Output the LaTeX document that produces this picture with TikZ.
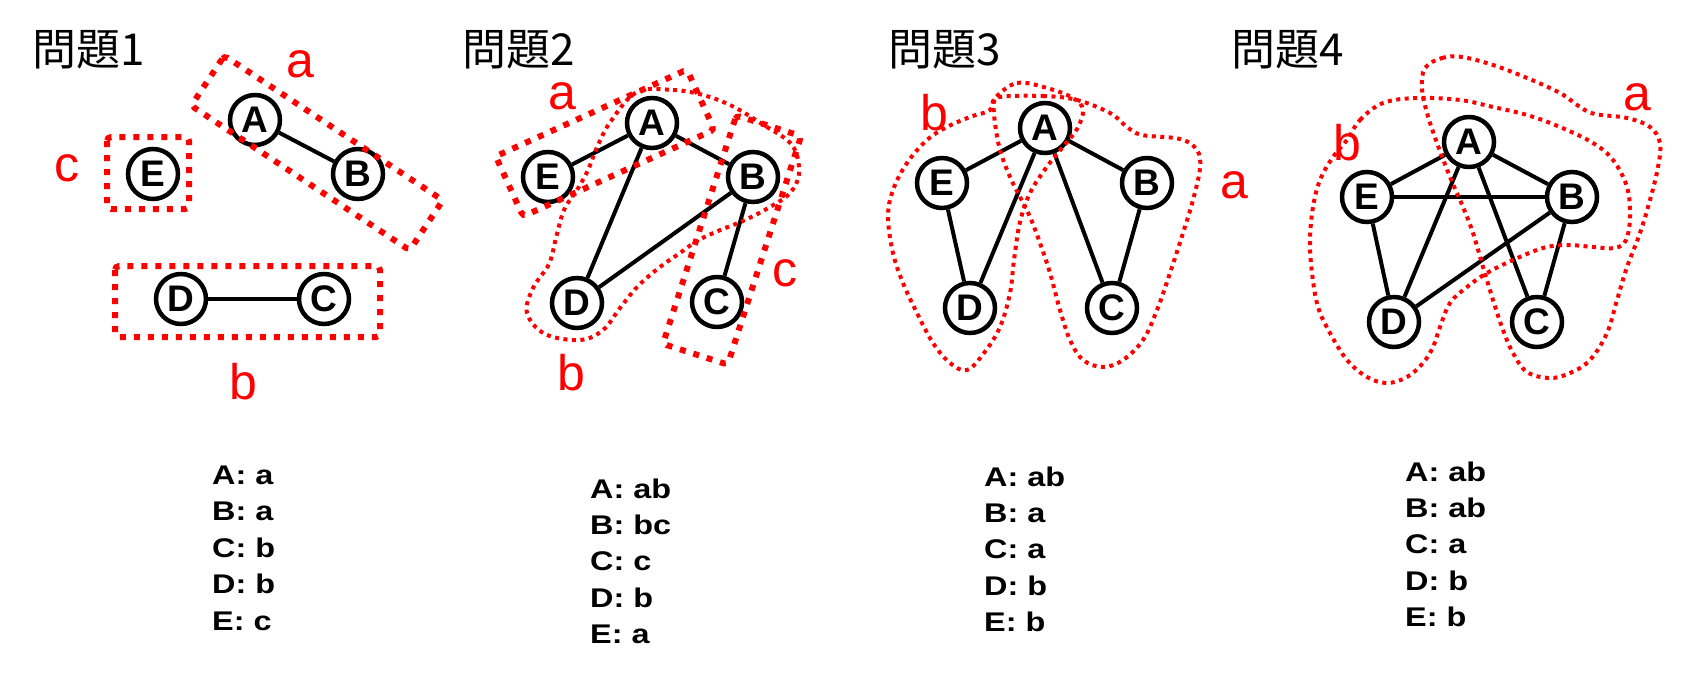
\documentclass[tikz,border=0pt]{standalone}
\usepackage{fontspec}
\setmainfont{Liberation Sans}
\newfontfamily\cjk{Noto Sans CJK JP}
\newfontfamily\ansfont[FakeStretch=1.2]{Liberation Sans}
\begin{document}
\begin{tikzpicture}[x=1pt,y=-1pt,
  vtx/.style={circle,draw=black,line width=4.5pt,fill=white,minimum size=50pt,inner sep=0pt,font=\bfseries\fontsize{37}{37}\selectfont},
  edge/.style={line width=4pt,draw=black},
  thickdot/.style={draw=red,line width=6pt,dash pattern=on 6pt off 8pt,rounded corners=4pt},
  thindot/.style={draw=red,line width=4pt,dash pattern=on 4pt off 4.5pt},
  grp/.style={text=red,font=\fontsize{50}{50}\selectfont,inner sep=0pt},
  ttl/.style={font=\cjk\fontsize{44}{44}\selectfont,anchor=base west,inner sep=0pt},
  ans/.style={font=\ansfont\bfseries\fontsize{27}{27}\selectfont,anchor=base west,inner sep=0pt}]
\useasboundingbox (0,0) rectangle (1687,680);

% ---------- titles
\node[ttl] (t1) at (32,65) {問題1};
\node[ttl] (t2) at (462,65) {問題2};
\node[ttl] (t3) at (888,65) {問題3};
\node[ttl] (t4) at (1231,65) {問題4};

% ---------- panel 1
\node[vtx] (pA1) at (255,120) {A};
\node[vtx] (pB1) at (358,174) {B};
\node[vtx] (pE1) at (153,174) {E};
\node[vtx] (pD1) at (181,299) {D};
\node[vtx] (pC1) at (324,299) {C};
\draw[edge] (pA1) -- (pB1);
\draw[edge] (pD1) -- (pC1);
\draw[thickdot] (107,137) rectangle (189,209);
\draw[thickdot] (115,266) rectangle (380,337);
\draw[thickdot,shift={(317,153)},rotate=-33.5] (-131,-30) rectangle (131,30);
\node[grp] (g1a) at (300,64) {a};
\node[grp] (g1b) at (243,382) {b};
\node[grp] (g1c) at (67,168) {c};

% ---------- panel 2
\node[vtx] (pA2) at (652,123) {A};
\node[vtx] (pE2) at (548,177) {E};
\node[vtx] (pB2) at (753,177) {B};
\node[vtx] (pD2) at (577,303) {D};
\node[vtx] (pC2) at (717,302) {C};
\draw[edge] (pA2) -- (pE2);
\draw[edge] (pA2) -- (pB2);
\draw[edge] (pA2) -- (pD2);
\draw[edge] (pD2) -- (pB2);
\draw[edge] (pB2) -- (pC2);
\draw[thindot] plot[smooth cycle,tension=0.6] coordinates {
 (637,92) (673,90) (703,95) (732,106) (762,124) (792,145) (799,173) (790,193)
 (770,207) (745,220) (718,231) (697,241) (680,253) (660,267) (638,286) (620,308)
 (603,330) (580,340) (545,334) (527,313) (533,288) (549,264) (556,238) (564,210)
 (577,190) (588,170) (598,145) (611,121)};
\draw[thickdot,shift={(605,143)},rotate=24.4] (-105,-33) rectangle (105,33);
\draw[thickdot,shift={(732,240)},rotate=-17.8] (-34,-120) rectangle (34,120);
\node[grp] (g2a) at (562,96) {a};
\node[grp] (g2b) at (571,373) {b};
\node[grp] (g2c) at (785,273) {c};

% ---------- panel 3
\node[vtx] (pA3) at (1045,128) {A};
\node[vtx] (pE3) at (942,183) {E};
\node[vtx] (pB3) at (1147,183) {B};
\node[vtx] (pD3) at (970,308) {D};
\node[vtx] (pC3) at (1112,308) {C};
\draw[edge] (pA3) -- (pE3);
\draw[edge] (pA3) -- (pB3);
\draw[edge] (pA3) -- (pD3);
\draw[edge] (pA3) -- (pC3);
\draw[edge] (pE3) -- (pD3);
\draw[edge] (pB3) -- (pC3);
\draw[thindot] plot[smooth cycle,tension=0.6] coordinates {
 (995,98) (1017,83) (1047,88) (1073,98) (1083,110) (1077,129) (1062,148)
 (1046,168) (1030,193) (1020,222) (1014,260) (1010,293) (1000,327) (984,353)
 (967,370) (950,363) (933,343) (917,313) (903,283) (893,253) (888,217)
 (893,190) (907,163) (927,140) (947,127) (970,117) (990,110)};
\draw[thindot] plot[smooth cycle,tension=0.6] coordinates {
 (1000,97) (1043,96) (1077,100) (1110,113) (1127,127) (1142,135) (1180,139)
 (1197,150) (1200,168) (1193,200) (1183,233) (1170,273) (1157,310) (1143,340)
 (1123,360) (1103,367) (1083,360) (1070,340) (1060,310) (1050,273) (1040,243)
 (1030,217) (1020,197) (1010,177) (1000,150) (995,123) (994,105)};
\node[grp] (g3a) at (1234,185) {a};
\node[grp] (g3b) at (934,113) {b};

% ---------- panel 4
\node[vtx] (pA4) at (1469,142) {A};
\node[vtx] (pE4) at (1367,197) {E};
\node[vtx] (pB4) at (1572,197) {B};
\node[vtx] (pD4) at (1394,322) {D};
\node[vtx] (pC4) at (1537,322) {C};
\draw[edge] (pA4) -- (pE4);
\draw[edge] (pA4) -- (pB4);
\draw[edge] (pE4) -- (pB4);
\draw[edge] (pA4) -- (pD4);
\draw[edge] (pA4) -- (pC4);
\draw[edge] (pD4) -- (pB4);
\draw[edge] (pE4) -- (pD4);
\draw[edge] (pB4) -- (pC4);
\draw[thindot] plot[smooth cycle,tension=0.6] coordinates {
 (1425,68) (1442,58) (1462,57) (1493,65) (1527,78) (1560,93) (1580,107)
 (1595,114) (1627,118) (1650,127) (1660,143) (1658,167) (1650,200) (1640,233)
 (1627,267) (1617,300) (1607,333) (1590,360) (1570,373) (1550,378) (1527,372)
 (1513,353) (1503,330) (1493,300) (1483,267) (1473,233) (1463,207) (1450,177)
 (1437,143) (1427,113) (1422,88)};
\draw[thindot] plot[smooth cycle,tension=0.6] coordinates {
 (1347,140) (1360,120) (1383,103) (1417,98) (1460,100) (1493,107) (1527,115)
 (1560,127) (1593,143) (1613,160) (1627,187) (1630,217) (1626,240) (1615,248)
 (1593,247) (1567,245) (1543,248) (1513,260) (1487,273) (1467,287) (1450,303)
 (1440,327) (1433,347) (1423,363) (1407,377) (1387,383) (1367,377) (1347,360)
 (1330,333) (1318,307) (1312,273) (1310,240) (1313,207) (1320,180) (1333,157)};
\node[grp] (g4a) at (1637,97) {a};
\node[grp] (g4b) at (1347,143) {b};

% ---------- answers
\node[ans] (r1a) at (212,484.3) {A: a};
\node[ans] (r1b) at (212,520.8) {B: a};
\node[ans] (r1c) at (212,557.3) {C: b};
\node[ans] (r1d) at (212,593.8) {D: b};
\node[ans] (r1e) at (212,630.3) {E: c};

\node[ans] (r2a) at (590,498.3) {A: ab};
\node[ans] (r2b) at (590,534.6) {B: bc};
\node[ans] (r2c) at (590,570.9) {C: c};
\node[ans] (r2d) at (590,607.2) {D: b};
\node[ans] (r2e) at (590,643.5) {E: a};

\node[ans] (r3a) at (984,486) {A: ab};
\node[ans] (r3b) at (984,522.4) {B: a};
\node[ans] (r3c) at (984,558.8) {C: a};
\node[ans] (r3d) at (984,595.2) {D: b};
\node[ans] (r3e) at (984,631.6) {E: b};

\node[ans] (r4a) at (1405,481) {A: ab};
\node[ans] (r4b) at (1405,517.4) {B: ab};
\node[ans] (r4c) at (1405,553.8) {C: a};
\node[ans] (r4d) at (1405,590.2) {D: b};
\node[ans] (r4e) at (1405,626.6) {E: b};
\end{tikzpicture}
\end{document}
